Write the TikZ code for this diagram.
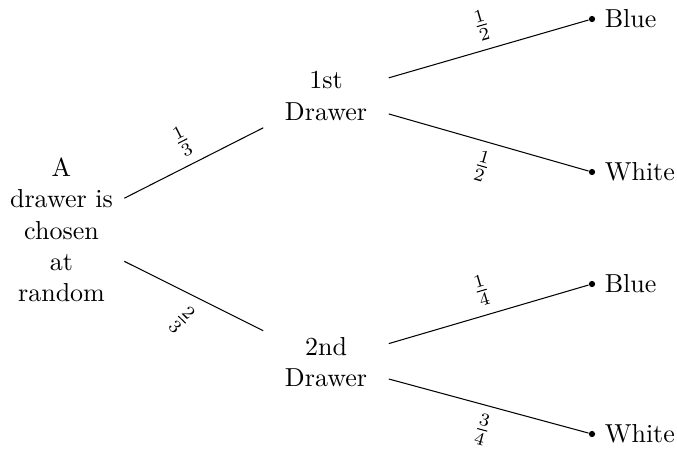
\documentclass[tikz,border=0pt]{standalone}
\usepackage{graphicx}
\begin{document}
\begin{tikzpicture}[x=0.3846pt, y=-0.3846pt,
  txt/.style={align=center, text width=#1, inner sep=3.33pt},
  leaf/.style={circle, fill, inner sep=0pt, minimum size=2.4pt},
  prob/.style={midway, sloped, inner sep=3.33pt},
  outcome/.style={right, inner sep=3.33pt}]
\useasboundingbox (0,0) rectangle (677,448);

% choice of drawer and the two drawers
\node[txt=1.45cm] (root) at (61.5,230) {A\\drawer is\\chosen\\at\\random};
\node[txt=1.45cm] (d1) at (326,96) {1st\\Drawer};
\node[txt=1.45cm] (d2) at (326,362) {2nd\\Drawer};

% outcomes
\node[leaf] (b1) at (592,19) {};
\node[leaf] (w1) at (592,172) {};
\node[leaf] (b2) at (592,284) {};
\node[leaf] (w2) at (592,434) {};
\node[outcome] (b1t) at (b1.east) {Blue};
\node[outcome] (w1t) at (w1.east) {White};
\node[outcome] (b2t) at (b2.east) {Blue};
\node[outcome] (w2t) at (w2.east) {White};

% branches with their probabilities
\draw (root) -- node[prob, above] {$\frac{1}{3}$} (d1);
\draw (root) -- node[prob, below] {\rotatebox{-18}{$\frac{2}{3}$}} (d2);
\draw (d1) -- node[prob, above] {$\frac{1}{2}$} (b1);
\draw (d1) -- node[prob, below] {$\frac{1}{2}$} (w1);
\draw (d2) -- node[prob, above] {$\frac{1}{4}$} (b2);
\draw (d2) -- node[prob, below] {$\frac{3}{4}$} (w2);
\end{tikzpicture}
\end{document}
